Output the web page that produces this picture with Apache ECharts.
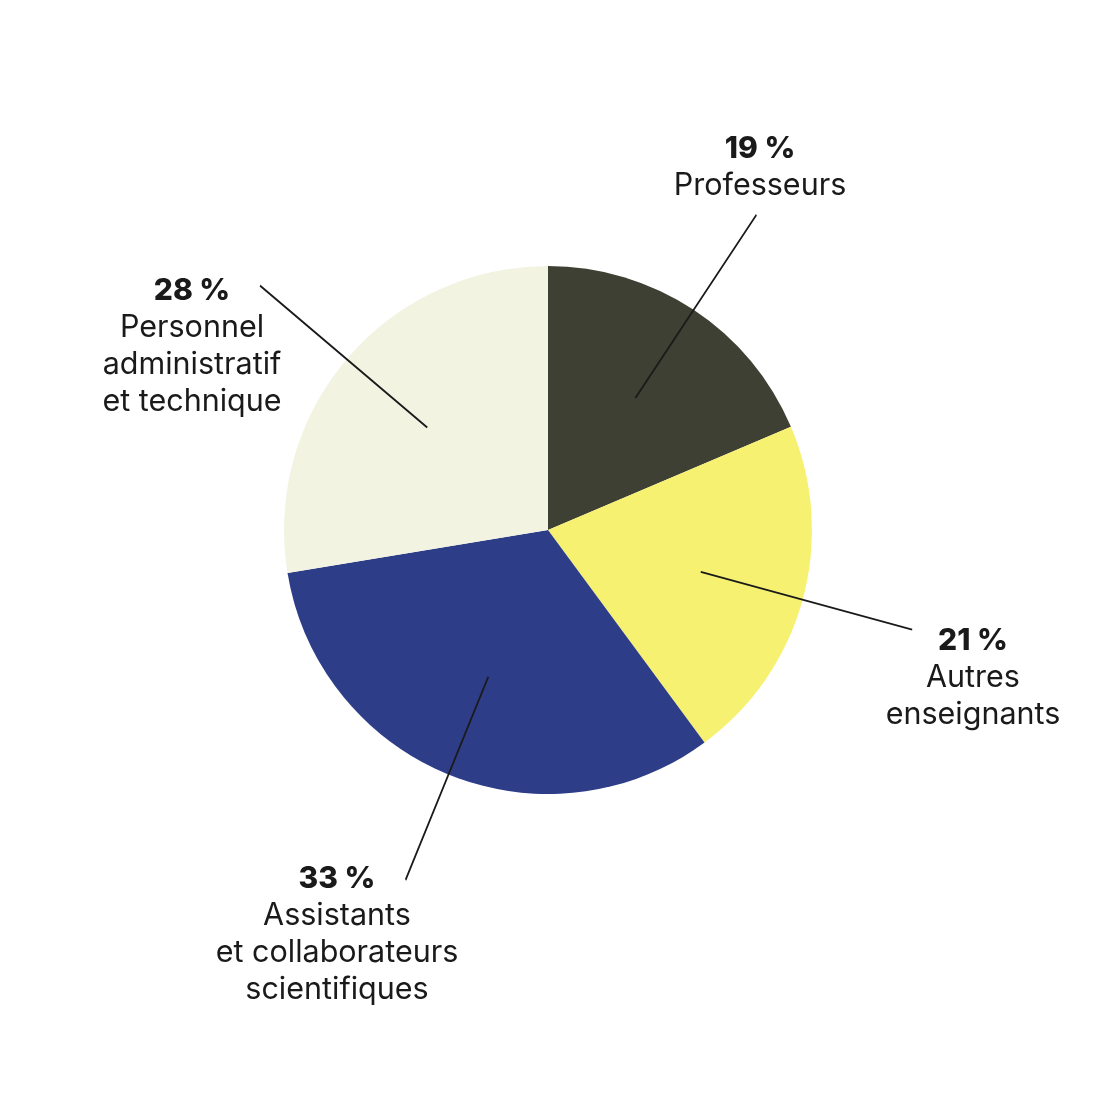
<!DOCTYPE html>
<html>
<head>
<meta charset="utf-8">
<script src="https://cdn.jsdelivr.net/npm/echarts@6/dist/echarts.min.js"></script>
<style>
html,body{margin:0;padding:0;background:#fff;}
#c{width:1105px;height:1105px;}
</style>
</head>
<body>
<div id="c"></div>
<script>
const categories = ['Professeurs', 'Autres enseignants', 'Assistants et collaborateurs scientifiques', 'Personnel administratif et technique'];
const labelTexts = [['Professeurs'], ['Autres', 'enseignants'], ['Assistants', 'et collaborateurs', 'scientifiques'], ['Personnel', 'administratif', 'et technique']];
const values = [18.6, 21.3, 32.5, 27.6];
const percentLabels = ['19 %', '21 %', '33 %', '28 %'];
const colors = ['#3e4033', '#f7f172', '#2e3d88', '#f2f4e1'];
// label block top-center anchors (layout)
const labelAnchors = [[760, 130], [973, 622], [337, 860], [192, 272]];

const CX = 548, CY = 530, R = 264;

const chart = echarts.init(document.getElementById('c'), null, {renderer: 'canvas'});
chart.setOption({
  backgroundColor: '#ffffff',
  animation: false,
  series: [{
    type: 'pie',
    center: [CX, CY],
    radius: R,
    startAngle: 90,
    clockwise: true,
    avoidLabelOverlap: false,
    data: categories.map((name, i) => ({name: name, value: values[i], itemStyle: {color: colors[i]}})),
    itemStyle: {borderWidth: 0},
    emphasis: {disabled: true},
    label: {
      show: true,
      position: 'outside',
      formatter: function (p) {
        const i = p.dataIndex;
        return '{b|' + percentLabels[i] + '}\n' + labelTexts[i].map(t => '{n|' + t + '}').join('\n');
      },
      rich: {
        b: {fontFamily: 'Inter', fontWeight: 800, fontSize: 30, lineHeight: 37, color: '#1a1a1a', align: 'center'},
        n: {fontFamily: 'Inter', fontSize: 30.5, lineHeight: 37, color: '#1a1a1a', align: 'center'}
      }
    },
    labelLine: {show: false},
    labelLayout: function (params) {
      const i = params.dataIndex;
      return {
        x: labelAnchors[i][0],
        y: labelAnchors[i][1],
        align: 'center',
        verticalAlign: 'top'
      };
    }
  }, {
    // leader lines: transparent inner pie whose label lines run radially outward
    type: 'pie',
    center: [CX, CY],
    radius: R * 0.6,
    startAngle: 90,
    clockwise: true,
    avoidLabelOverlap: false,
    silent: true,
    z: 3,
    data: categories.map((name, i) => ({name: name, value: values[i]})),
    itemStyle: {color: 'rgba(0,0,0,0)', borderWidth: 0},
    emphasis: {disabled: true},
    label: {show: true, position: 'outside', formatter: ' ', fontSize: 1},
    labelLine: {
      show: true,
      length: R * 0.83,
      length2: 0.01,
      minTurnAngle: 0,
      maxSurfaceAngle: 180,
      lineStyle: {color: '#1a1a1a', width: 1.8}
    }
  }]
});
</script>
</body>
</html>
